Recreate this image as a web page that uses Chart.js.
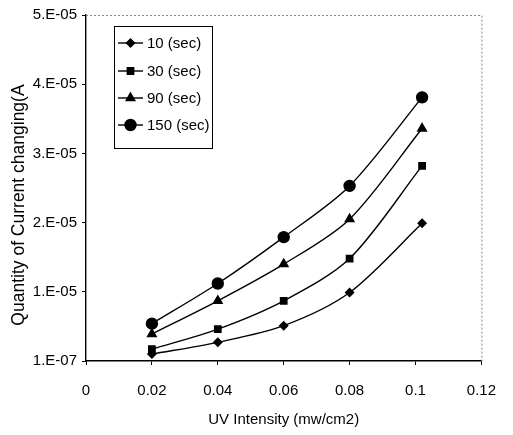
<!DOCTYPE html>
<html>
<head>
<meta charset="utf-8">
<script src="https://cdn.jsdelivr.net/npm/chart.js@4"></script>
<style>
  html, body { margin: 0; padding: 0; background: #fff; }
  #wrap { width: 513px; height: 435px; }
</style>
</head>
<body>
<div id="wrap"><canvas id="uvChart"></canvas></div>
<script>
// values
const uvIntensity = [0.02, 0.04, 0.06, 0.08, 0.102];
const sec10 = [0.10e-5, 0.27e-5, 0.51e-5, 0.99e-5, 1.99e-5];
const sec30 = [0.17e-5, 0.46e-5, 0.87e-5, 1.48e-5, 2.82e-5];
const sec90 = [0.39e-5, 0.87e-5, 1.40e-5, 2.05e-5, 3.36e-5];
const sec150 = [0.54e-5, 1.12e-5, 1.79e-5, 2.53e-5, 3.81e-5];
const seriesNames = ['10 (sec)', '30 (sec)', '90 (sec)', '150 (sec)'];
const xTickLabels = ['0', '0.02', '0.04', '0.06', '0.08', '0.1', '0.12'];
const yTickLabels = ['1.E-07', '1.E-05', '2.E-05', '3.E-05', '4.E-05', '5.E-05'];

const FONT = "'Liberation Sans', Arial, sans-serif";

const makeSet = (label, values, style, radius) => ({
  label: label,
  data: values.map((v, i) => ({ x: uvIntensity[i], y: v })),
  borderColor: '#000',
  backgroundColor: '#000',
  borderWidth: 1.4,
  pointStyle: style,
  pointRadius: radius,
  pointBackgroundColor: '#000',
  pointBorderColor: '#000',
  tension: 0.3,
  fill: false,
});

// legend box drawn inside the plot
const boxLegend = {
  id: 'boxLegend',
  afterDatasetsDraw(chart) {
    const ctx = chart.ctx;
    const left = 114, top = 26, w = 98, h = 122;
    const rows = [43, 71, 98, 125];
    ctx.save();
    ctx.fillStyle = '#fff';
    ctx.fillRect(left, top, w, h);
    ctx.strokeStyle = '#000';
    ctx.lineWidth = 1;
    ctx.strokeRect(left + 0.5, top + 0.5, w, h);
    chart.data.datasets.forEach((ds, i) => {
      const y = rows[i];
      ctx.beginPath();
      ctx.moveTo(118, y);
      ctx.lineTo(143, y);
      ctx.lineWidth = 1.4;
      ctx.strokeStyle = '#000';
      ctx.stroke();
      ctx.fillStyle = '#000';
      Chart.helpers.drawPoint(ctx, {
        pointStyle: ds.pointStyle,
        radius: ds.pointRadius,
        rotation: 0,
        borderWidth: 1,
      }, 130.5, y);
      ctx.fillStyle = '#000';
      ctx.font = '15px ' + FONT;
      ctx.textBaseline = 'middle';
      ctx.textAlign = 'left';
      ctx.fillText(ds.label, 147, y + 1);
    });
    ctx.restore();
  },
  afterDraw(chart) {
    // faint dotted top and right frame
    const a = chart.chartArea;
    const ctx = chart.ctx;
    ctx.save();
    ctx.strokeStyle = '#888';
    ctx.lineWidth = 1;
    ctx.setLineDash([2, 2]);
    ctx.beginPath();
    ctx.moveTo(a.left, a.top + 0.5);
    ctx.lineTo(a.right + 0.5, a.top + 0.5);
    ctx.lineTo(a.right + 0.5, a.bottom);
    ctx.stroke();
    ctx.restore();
  }
};

new Chart(document.getElementById('uvChart'), {
  type: 'line',
  data: {
    datasets: [
      makeSet(seriesNames[0], sec10, 'rectRot', 4),
      makeSet(seriesNames[1], sec30, 'rect', 4.5),
      makeSet(seriesNames[2], sec90, 'triangle', 5),
      makeSet(seriesNames[3], sec150, 'circle', 5.5),
    ],
  },
  options: {
    responsive: true,
    maintainAspectRatio: false,
    animation: false,
    layout: { padding: { top: 15, right: 27, left: 0, bottom: 0 } },
    plugins: {
      legend: { display: false },
      tooltip: { enabled: false },
    },
    scales: {
      x: {
        type: 'linear',
        min: 0,
        max: 0.12,
        afterFit: (s) => { s.height = 74; },
        ticks: {
          stepSize: 0.02,
          color: '#000',
          font: { family: FONT, size: 15 },
          padding: 17,
          maxRotation: 0,
          callback: (v, i) => xTickLabels[i],
        },
        grid: { drawOnChartArea: false, color: '#000', tickLength: 4 },
        border: { color: '#000', width: 1.4 },
        title: {
          display: true,
          text: 'UV Intensity (mw/cm2)',
          color: '#000',
          font: { family: FONT, size: 15 },
          padding: { top: 0, bottom: 6 },
        },
      },
      y: {
        min: 0,
        max: 5e-5,
        afterFit: (s) => { s.width = 86; },
        ticks: {
          stepSize: 1e-5,
          color: '#000',
          font: { family: FONT, size: 15 },
          padding: 5,
          callback: (v, i) => yTickLabels[i],
        },
        grid: { drawOnChartArea: false, color: '#000', tickLength: 4 },
        border: { color: '#000', width: 1.4 },
        title: {
          display: true,
          // trailing spaces push the label a little lower, as in the original
          text: 'Quantity of Current changing(A\u00a0\u00a0\u00a0\u00a0\u00a0\u00a0\u00a0',
          color: '#000',
          font: { family: FONT, size: 17.5 },
          padding: { top: 9, bottom: 0 },
        },
      },
    },
  },
  plugins: [boxLegend],
});
</script>
</body>
</html>
